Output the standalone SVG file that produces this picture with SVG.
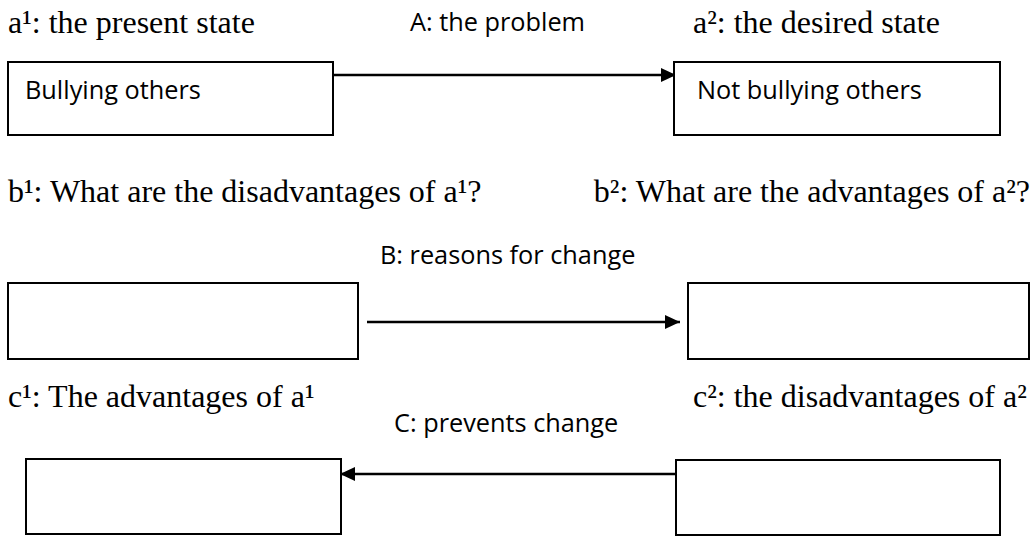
<svg xmlns="http://www.w3.org/2000/svg" width="1035" height="536" viewBox="0 0 1035 536">
<style>
.serif{font-family:"Liberation Serif","Times New Roman",serif;font-size:32px;fill:#000}
.sans{font-family:"Open Sans","Noto Sans",sans-serif;font-size:25.3px;fill:#000}
.box{fill:#fff;stroke:#000;stroke-width:2}
.conn{stroke:#000;stroke-width:2.5;fill:none}
</style>
<defs>
<marker id="ah" viewBox="0 0 15 14" refX="15" refY="7" markerWidth="15" markerHeight="14" markerUnits="userSpaceOnUse" orient="auto">
<path d="M0,0 L15,7 L0,14 Z" fill="#000"/>
</marker>
</defs>
<rect width="1035" height="536" fill="#fff"/>
<g id="labels">
<text class="serif" x="8" y="33">a¹: the present state</text>
<text class="serif" x="693" y="33">a²: the desired state</text>
<text class="serif" x="8" y="202">b¹: What are the disadvantages of a¹?</text>
<text class="serif" x="1030" y="202" text-anchor="end">b²: What are the advantages of a²?</text>
<text class="serif" x="8" y="407">c¹: The advantages of a¹</text>
<text class="serif" x="693" y="407">c²: the disadvantages of a²</text>
</g>
<g id="connectors">
<line class="conn" x1="333" y1="75" x2="676" y2="75" marker-end="url(#ah)"/>
<line class="conn" x1="367" y1="322" x2="680" y2="322" marker-end="url(#ah)"/>
<line class="conn" x1="677" y1="474" x2="340" y2="474" marker-end="url(#ah)"/>
<text class="sans" x="410" y="31">A: the problem</text>
<text class="sans" x="380" y="264">B: reasons for change</text>
<text class="sans" x="394" y="432">C: prevents change</text>
</g>
<g id="node-a1">
<rect class="box" x="8" y="62" width="325" height="73"/>
<text class="sans" x="25" y="99">Bullying others</text>
</g>
<g id="node-a2">
<rect class="box" x="674" y="62" width="326" height="73"/>
<text class="sans" x="697" y="99">Not bullying others</text>
</g>
<g id="node-b1">
<rect class="box" x="8" y="283" width="350" height="76"/>
</g>
<g id="node-b2">
<rect class="box" x="688" y="283" width="341" height="76"/>
</g>
<g id="node-c1">
<rect class="box" x="26" y="459" width="315" height="75"/>
</g>
<g id="node-c2">
<rect class="box" x="676" y="460" width="324" height="75"/>
</g>
</svg>
